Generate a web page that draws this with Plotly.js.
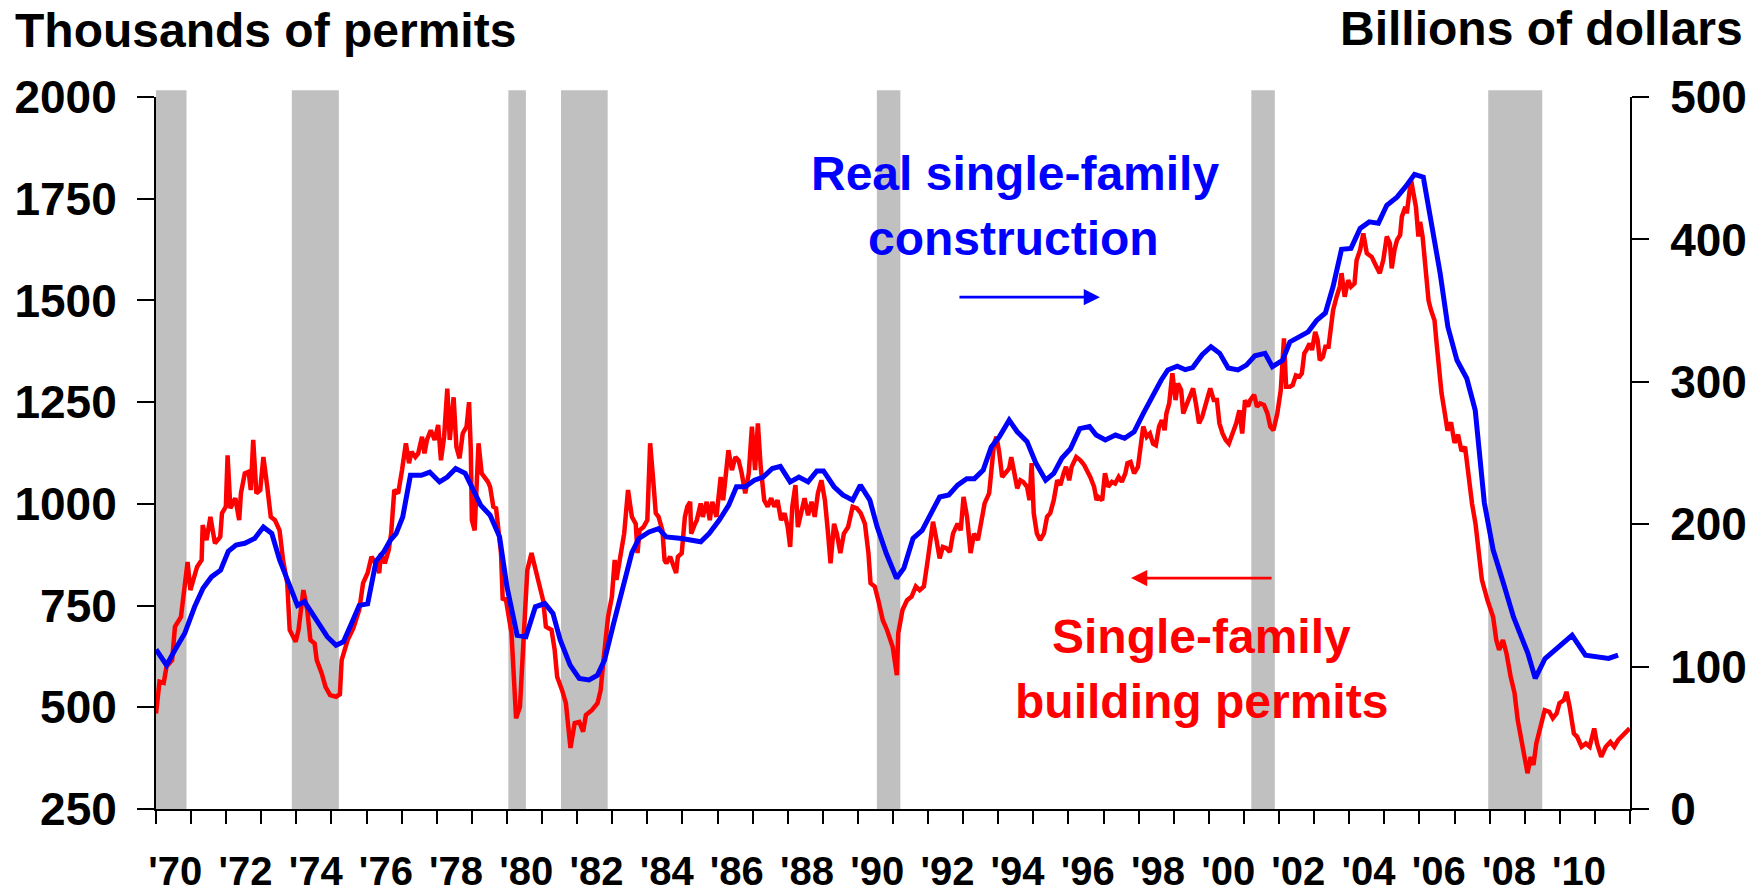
<!DOCTYPE html>
<html><head><meta charset="utf-8">
<script src="https://cdn.plot.ly/plotly-3.0.1.min.js"></script>
<style>html,body{margin:0;padding:0;background:#fff;} #chart{width:1764px;height:892px;}</style>
</head><body><div id="chart"></div>
<script>
// Single-family building permits (thousands, left axis), by decimal year
const permitDates = [
1970.00,1970.10,1970.22,1970.30,1970.46,1970.54,1970.71,1970.90,1970.98,1971.17,1971.30,1971.33,1971.44,1971.55,1971.68,1971.83,1971.88,1971.99,
1972.04,1972.12,1972.26,1972.37,1972.42,1972.53,1972.64,1972.70,1972.77,1972.86,1972.97,1973.06,1973.17,1973.27,1973.39,1973.52,1973.62,1973.74,1973.81,1973.98,
1974.06,1974.20,1974.31,1974.40,1974.52,1974.58,1974.72,1974.83,1974.96,1975.13,1975.24,1975.29,1975.46,1975.62,1975.79,1975.90,1976.03,1976.14,1976.25,1976.36,
1976.41,1976.52,1976.63,1976.70,1976.79,1976.90,1977.01,1977.12,1977.21,1977.28,1977.39,1977.47,1977.58,1977.65,1977.72,1977.83,1977.94,1978.04,1978.12,1978.21,
1978.30,1978.37,1978.48,1978.56,1978.65,1978.74,1978.85,1978.92,1978.97,1979.00,1979.08,1979.14,1979.19,1979.28,1979.36,1979.46,1979.52,1979.61,1979.69,1979.74,
1979.83,1979.88,1979.96,1980.13,1980.26,1980.37,1980.48,1980.58,1980.70,1980.86,1981.03,1981.11,1981.27,1981.36,1981.43,1981.57,1981.68,1981.81,1981.93,1982.06,
1982.17,1982.25,1982.42,1982.58,1982.67,1982.75,1982.88,1982.99,1983.07,1983.12,1983.24,1983.34,1983.45,1983.56,1983.67,1983.72,1983.78,1983.89,1984.00,1984.08,
1984.16,1984.24,1984.32,1984.43,1984.49,1984.54,1984.65,1984.76,1984.82,1984.87,1984.98,1985.07,1985.14,1985.22,1985.25,1985.36,1985.41,1985.52,1985.58,1985.69,
1985.78,1985.85,1985.97,1986.09,1986.16,1986.31,1986.41,1986.51,1986.60,1986.69,1986.79,1986.89,1986.98,1987.07,1987.15,1987.23,1987.33,1987.43,1987.53,1987.62,
1987.71,1987.81,1987.91,1988.00,1988.07,1988.13,1988.22,1988.29,1988.38,1988.48,1988.58,1988.68,1988.77,1988.86,1988.96,1989.06,1989.15,1989.22,1989.32,1989.40,
1989.50,1989.60,1989.72,1989.85,1989.97,1990.08,1990.20,1990.30,1990.36,1990.48,1990.58,1990.71,1990.83,1990.99,1991.11,1991.15,1991.27,1991.40,1991.53,1991.65,
1991.76,1991.88,1991.99,1992.08,1992.14,1992.24,1992.33,1992.42,1992.52,1992.62,1992.71,1992.84,1992.93,1993.01,1993.11,1993.21,1993.31,1993.42,1993.51,1993.61,
1993.74,1993.80,1993.88,1993.95,1994.03,1994.11,1994.21,1994.31,1994.37,1994.46,1994.54,1994.63,1994.71,1994.82,1994.89,1994.95,1995.01,1995.10,1995.19,1995.30,
1995.39,1995.48,1995.58,1995.68,1995.77,1995.86,1995.93,1996.02,1996.09,1996.22,1996.34,1996.45,1996.55,1996.62,1996.73,1996.80,1996.85,1996.96,1997.04,1997.13,
1997.24,1997.33,1997.43,1997.52,1997.62,1997.68,1997.77,1997.87,1997.98,1998.06,1998.13,1998.23,1998.32,1998.41,1998.49,1998.58,1998.66,1998.74,1998.79,1998.87,
1998.96,1999.05,1999.12,1999.21,1999.27,1999.38,1999.46,1999.55,1999.63,1999.72,1999.81,1999.88,1999.97,2000.04,2000.14,2000.23,2000.30,2000.39,2000.48,2000.57,
2000.67,2000.78,2000.87,2000.95,2001.03,2001.12,2001.18,2001.29,2001.37,2001.46,2001.57,2001.67,2001.75,2001.84,2001.95,2002.05,2002.14,2002.20,2002.31,2002.39,
2002.48,2002.58,2002.65,2002.72,2002.78,2002.87,2002.94,2003.03,2003.10,2003.16,2003.25,2003.32,2003.41,2003.48,2003.54,2003.64,2003.73,2003.78,2003.87,2003.97,
2004.05,2004.15,2004.21,2004.31,2004.40,2004.50,2004.64,2004.73,2004.87,2004.97,2005.07,2005.16,2005.21,2005.29,2005.36,2005.45,2005.50,2005.60,2005.64,2005.71,
2005.76,2005.83,2005.90,2005.97,2006.02,2006.09,2006.16,2006.26,2006.33,2006.43,2006.49,2006.56,2006.63,2006.71,2006.80,2006.90,2007.00,2007.10,2007.20,2007.30,
2007.40,2007.50,2007.60,2007.69,2007.78,2007.94,2008.10,2008.19,2008.27,2008.38,2008.48,2008.60,2008.71,2008.80,2008.92,2009.00,2009.08,2009.17,2009.25,2009.33,
2009.46,2009.57,2009.70,2009.80,2009.91,2009.99,2010.12,2010.19,2010.28,2010.40,2010.49,2010.62,2010.74,2010.85,2010.98,2011.06,2011.18,2011.31,2011.44,2011.55,
2011.66,2011.76,2011.88,2011.99];
const permitValues = [
485,563,560,600,616,698,722,857,788,845,862,948,911,968,903,919,977,993,
1119,989,1014,960,1026,1075,1079,1034,1157,1026,1034,1115,1042,968,960,935,862,805,690,661,
690,788,739,665,657,616,584,550,530,526,532,616,665,694,739,805,830,870,854,830,
879,854,886,927,1034,1026,1083,1149,1100,1128,1115,1124,1165,1124,1157,1181,1157,1194,1107,1165,
1283,1157,1262,1140,1112,1173,1190,1250,1132,960,935,1026,1149,1075,1066,1054,1042,993,989,943,
879,763,770,682,473,501,682,837,879,821,763,698,690,641,575,542,510,400,461,464,
440,481,493,510,542,616,722,772,862,813,870,927,1034,968,951,879,935,943,960,1149,
1066,977,968,935,862,854,870,845,830,870,879,968,993,1005,927,951,960,1001,968,1005,
960,1005,968,1066,1009,1132,1083,1115,1107,1075,1026,1075,1190,1083,1198,1091,1009,993,1014,993,
1009,960,977,943,894,993,1046,943,977,1014,972,1005,968,1026,1058,1009,927,854,951,927,
879,927,943,993,989,977,951,879,805,797,763,714,690,649,579,682,739,763,772,797,
788,797,862,911,956,911,866,894,891,882,927,951,935,1017,968,879,927,911,960,1001,
1026,1091,1149,1165,1124,1066,1075,1087,1115,1075,1038,1058,1054,1042,1009,1100,977,927,911,927,
968,977,1009,1058,1046,1075,1091,1058,1091,1115,1107,1095,1079,1066,1042,1009,1017,1009,1075,1042,
1054,1050,1066,1054,1075,1100,1103,1075,1091,1148,1190,1165,1173,1148,1144,1190,1206,1181,1222,1247,
1321,1255,1296,1280,1222,1247,1263,1284,1247,1198,1214,1239,1263,1284,1255,1255,1198,1173,1157,1148,
1169,1198,1230,1173,1255,1239,1255,1268,1239,1247,1243,1222,1190,1181,1222,1280,1407,1288,1288,1292,
1316,1313,1321,1370,1378,1394,1378,1423,1402,1353,1361,1386,1386,1435,1476,1509,1534,1567,1509,1550,
1534,1542,1599,1624,1665,1616,1607,1591,1567,1599,1657,1640,1579,1624,1648,1661,1706,1730,1714,1763,
1796,1763,1730,1657,1693,1657,1599,1500,1476,1451,1394,1321,1272,1230,1180,1200,1150,1170,1130,1140,
1060,1000,950,886,813,763,722,665,641,665,633,575,535,469,411,378,338,378,358,411,
452,493,489,473,485,510,518,538,501,436,428,403,411,403,448,411,378,403,415,403,
419,428,436,448];

// Real single-family construction (billions of dollars, right axis)
const constructionDates = [
1970.00,1970.30,1970.54,1970.82,1971.10,1971.34,1971.58,1971.84,1972.06,1972.28,1972.53,1972.81,1973.06,1973.30,1973.52,1973.83,
1974.03,1974.23,1974.39,1974.64,1974.88,1975.13,1975.34,1975.57,1975.79,1976.03,1976.27,1976.50,1976.68,1976.84,1977.03,1977.25,
1977.56,1977.80,1978.08,1978.30,1978.54,1978.81,1979.03,1979.25,1979.52,1979.79,1980.00,1980.29,1980.54,1980.81,1981.08,1981.31,
1981.52,1981.80,1982.06,1982.34,1982.58,1982.78,1983.04,1983.32,1983.56,1983.76,1984.05,1984.32,1984.54,1984.98,1985.52,1985.76,
1986.05,1986.32,1986.54,1986.79,1987.05,1987.30,1987.56,1987.79,1988.07,1988.32,1988.58,1988.83,1989.02,1989.32,1989.57,1989.85,
1990.07,1990.34,1990.55,1990.81,1991.10,1991.31,1991.57,1991.83,1992.08,1992.33,1992.59,1992.84,1993.10,1993.32,1993.57,1993.80,
1994.03,1994.31,1994.54,1994.82,1995.07,1995.35,1995.58,1995.81,1996.06,1996.32,1996.60,1996.79,1997.05,1997.34,1997.60,1997.87,
1998.13,1998.38,1998.64,1998.83,1999.10,1999.33,1999.54,1999.81,2000.06,2000.31,2000.55,2000.83,2001.07,2001.31,2001.60,2001.81,
2002.10,2002.31,2002.57,2002.83,2003.07,2003.32,2003.54,2003.78,2004.05,2004.31,2004.57,2004.83,2005.07,2005.36,2005.60,2005.86,
2006.11,2006.35,2006.59,2006.81,2007.07,2007.35,2007.59,2007.85,2008.10,2008.40,2008.68,2009.09,2009.30,2009.58,2009.91,2010.35,
2010.73,2011.06,2011.39,2011.66];
const constructionValues = [
112,101,111.7,123.4,142,155,163,167.7,181,185.4,186.6,190,198,193.4,175,156,
143,145.7,139.7,130.3,121,115,117.4,130.3,143,144,174,181,188.9,193.4,205.1,234.3,
234.3,236.6,229.7,233.1,239.1,235.7,224,213.4,206.3,191.1,156,122,121,142,144.3,137.4,
118.6,101,91.7,90.6,94,104.6,130.3,158.6,180,190,194.6,196.9,191.1,190,187.7,193.4,
202.9,213.4,226.3,226.3,230.9,233.1,239.1,240.6,229.7,233.1,229.7,237.4,237.4,226.3,220.6,216.9,
227.4,216.9,198,179.4,162,169.1,190,195.7,207.4,219.1,220.6,227.4,232,232,238,254.3,
261.4,273.1,264.9,258,242.9,230.9,235.7,246.3,253.1,267.1,268.6,262.6,259.1,262.6,260.3,264.9,
277.7,289.4,301.1,308.3,311,308.5,310,319,324.6,320,309.7,308.3,311.7,318.3,320,310.6,
315.1,328,331.4,335.1,343.1,348.3,366.9,393,393.7,407.7,412.3,411.4,424,429.7,436.9,445.7,
443.7,411.1,376.3,338.6,315.1,302.3,280,215,182,158,134.9,109.4,91.7,105.7,112.9,122,
108,106.9,105.7,108];

// Recessions (shaded)
const recessionStarts = [1969.92, 1973.87, 1980.04, 1981.54, 1990.54, 2001.21, 2007.96];
const recessionEnds   = [1970.87, 1975.21, 1980.54, 1982.87, 1991.21, 2001.88, 2009.50];

// Axes
const leftTicks = [250, 500, 750, 1000, 1250, 1500, 1750, 2000];
const rightTicks = [0, 100, 200, 300, 400, 500];
const labelYears = [1970,1972,1974,1976,1978,1980,1982,1984,1986,1988,1990,1992,1994,1996,1998,2000,2002,2004,2006,2008,2010];
const labelText = ["'70","'72","'74","'76","'78","'80","'82","'84","'86","'88","'90","'92","'94","'96","'98","'00","'02","'04","'06","'08","'10"];

const yearTicks = [];
for (let y = 1970; y <= 2012; y++) yearTicks.push(y);

const FONT = 'Liberation Sans, Arial, sans-serif';
const tickFont = {family: FONT, size: 46, color: '#000', weight: 700};
const textFont = (c) => ({family: FONT, size: 48, color: c, weight: 700});

const traces = [
  {x: permitDates, y: permitValues, xaxis: 'x', yaxis: 'y', mode: 'lines',
   line: {color: '#FF0000', width: 4.5}, hoverinfo: 'skip', showlegend: false},
  {x: constructionDates, y: constructionValues, xaxis: 'x', yaxis: 'y2', mode: 'lines',
   line: {color: '#0000FF', width: 5}, hoverinfo: 'skip', showlegend: false},
  {x: [1990], y: [1000], xaxis: 'x2', yaxis: 'y', mode: 'markers',
   marker: {opacity: 0, size: 1}, hoverinfo: 'skip', showlegend: false}
];

const shapes = recessionStarts.map((s, i) => ({
  type: 'rect', xref: 'x', yref: 'paper', x0: s, x1: recessionEnds[i], y0: 0, y1: 1.0094,
  fillcolor: '#C0C0C0', line: {width: 0}, layer: 'below'
}));

const annotations = [
  {xref: 'paper', yref: 'paper', x: -0.097, y: 1.0937, xanchor: 'left', yanchor: 'middle', showarrow: false,
   text: 'Thousands of permits', font: textFont('#000')},
  {xref: 'paper', yref: 'paper', x: 1.078, y: 1.0957, xanchor: 'right', yanchor: 'middle', showarrow: false,
   text: 'Billions of dollars', font: textFont('#000')},
  {xref: 'paper', yref: 'paper', x: 0.5828, y: 0.8928, xanchor: 'center', yanchor: 'middle', showarrow: false,
   text: 'Real single-family', font: textFont('#0000FF')},
  {xref: 'paper', yref: 'paper', x: 0.5818, y: 0.8009, xanchor: 'center', yanchor: 'middle', showarrow: false,
   text: 'construction', font: textFont('#0000FF')},
  {xref: 'paper', yref: 'paper', x: 0.7093, y: 0.2429, xanchor: 'center', yanchor: 'middle', showarrow: false,
   text: 'Single-family', font: textFont('#FF0000')},
  {xref: 'paper', yref: 'paper', x: 0.7093, y: 0.1510, xanchor: 'center', yanchor: 'middle', showarrow: false,
   text: 'building permits', font: textFont('#FF0000')},
  {xref: 'paper', yref: 'paper', x: 0.6404, y: 0.7188, ax: -142, ay: 0, text: '', showarrow: true,
   arrowhead: 2, arrowsize: 1.2, arrowwidth: 2.7, arrowcolor: '#0000FF'},
  {xref: 'paper', yref: 'paper', x: 0.6615, y: 0.3243, ax: 142, ay: 0, text: '', showarrow: true,
   arrowhead: 2, arrowsize: 1.2, arrowwidth: 2.7, arrowcolor: '#FF0000'}
];

const layout = {
  width: 1764, height: 892,
  margin: {l: 156, r: 134, t: 97, b: 83, pad: 0},
  paper_bgcolor: '#FFFFFF', plot_bgcolor: 'rgba(0,0,0,0)',
  showlegend: false,
  xaxis: {range: [1970, 2012], tickmode: 'array', tickvals: yearTicks, showticklabels: false,
          ticks: 'outside', ticklen: 13, tickwidth: 2, tickcolor: '#000',
          showline: true, linewidth: 2, linecolor: '#000', showgrid: false, zeroline: false, fixedrange: true},
  xaxis2: {overlaying: 'x', anchor: 'y', side: 'bottom', range: [1970, 2012], tickmode: 'array',
           tickvals: labelYears.map(y => y + 0.55), ticktext: labelText, ticks: '',
           showline: false, showgrid: false, zeroline: false, ticklabelstandoff: 35,
           tickfont: {family: FONT, size: 40, color: '#000', weight: 700}},
  yaxis: {range: [250, 2000], tickmode: 'array', tickvals: leftTicks, ticks: 'outside', ticklen: 17,
          tickwidth: 2, tickcolor: '#000', showline: true, linewidth: 2, linecolor: '#000',
          showgrid: false, zeroline: false, tickfont: tickFont, ticklabelstandoff: 11},
  yaxis2: {overlaying: 'y', side: 'right', anchor: 'x', range: [0, 500], tickmode: 'array', tickvals: rightTicks,
           ticks: 'outside', ticklen: 17, tickwidth: 2, tickcolor: '#000', showline: true, linewidth: 2,
           linecolor: '#000', showgrid: false, zeroline: false, tickfont: tickFont, ticklabelstandoff: 12},
  shapes: shapes,
  annotations: annotations
};

Plotly.newPlot('chart', traces, layout, {staticPlot: true, displayModeBar: false});
</script></body></html>
